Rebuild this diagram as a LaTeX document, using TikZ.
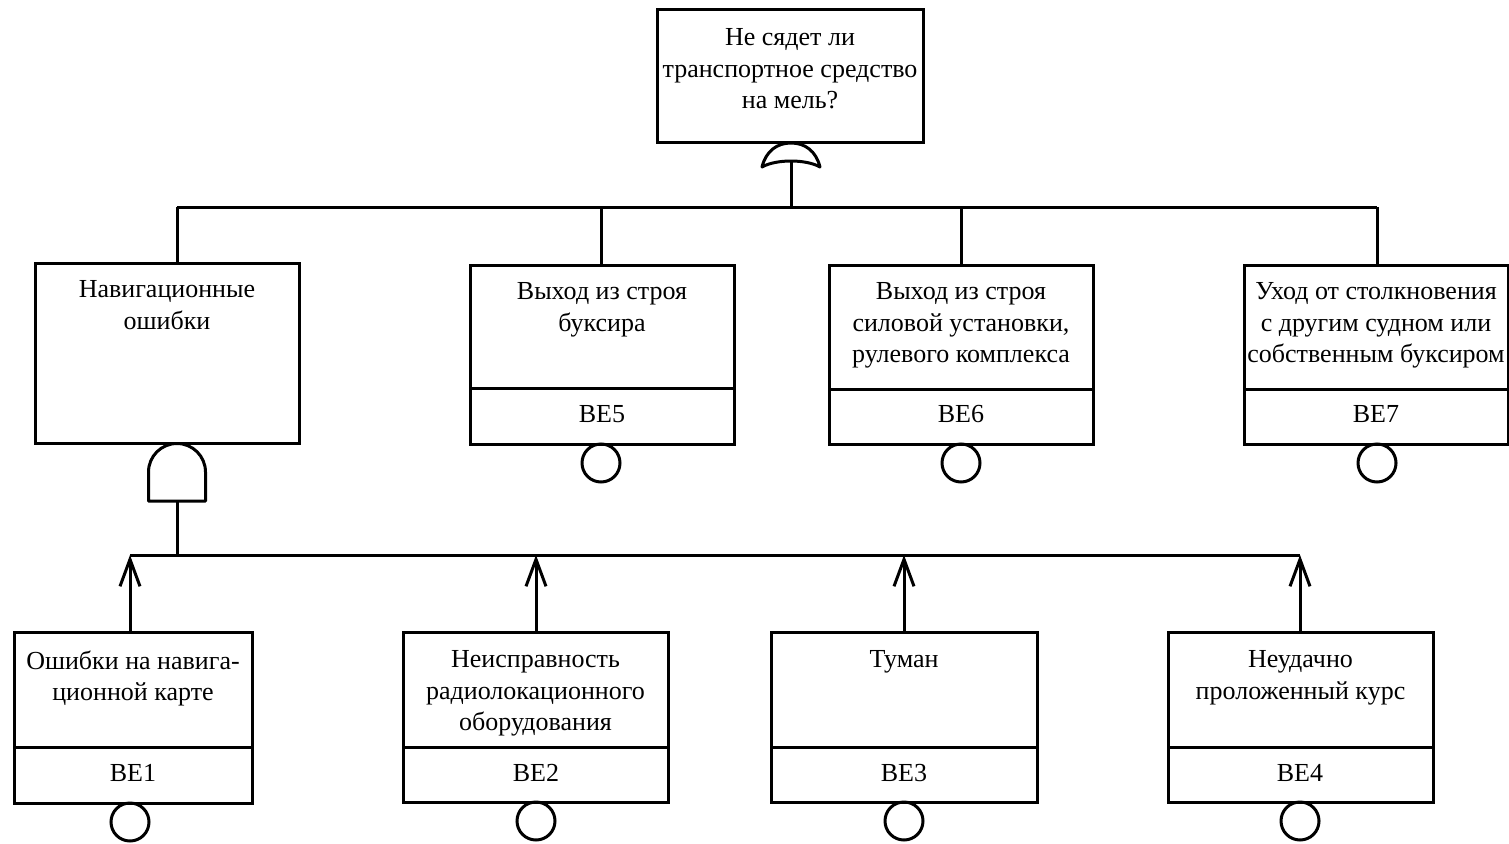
\documentclass[tikz,border=0pt]{standalone}
\usepackage{fontspec}
\setmainfont{Liberation Serif}
\usetikzlibrary{arrows.meta}
\tikzset{
  every picture/.style={line width=3pt},
  box/.style={draw, line width=3pt, inner sep=0pt, outer sep=0pt, anchor=north west},
  txt/.style={inner sep=0pt, align=center, anchor=north, font=\fontsize{26}{31.5}\selectfont},
  lbl/.style={inner sep=0pt, font=\fontsize{26}{31.5}\selectfont},
  evc/.style={draw, circle, line width=3pt, minimum size=38pt, inner sep=0pt, outer sep=0pt, anchor=north},
  conn/.style={line width=3pt},
  arr/.style={line width=3pt, -{Straight Barb[length=27pt,width=20pt,line width=3pt]}},
  gate/.style={draw, line width=3pt, line join=round}
}
\begin{document}
\begin{tikzpicture}[x=1pt,y=-1pt]
\useasboundingbox (0,0) rectangle (1509,843);
\clip (0,0) rectangle (1509,843);

% top event
\node[box, minimum width=266pt, minimum height=132pt] (top) at (657,10) {};
\node[txt] (toptxt) at (790,27) {Не сядет ли\\транспортное средство\\на мель?};

% OR gate
\draw[gate] (762,167) .. controls (766,151) and (777,143) .. (791,143)
  .. controls (805,143) and (816,151) .. (820,167)
  .. controls (806,159) and (776,159) .. (762,167) -- cycle;
\coordinate (orout) at (791,161);
\coordinate (busT) at (791,207);
\coordinate (bTl) at (177,207);
\coordinate (bT5) at (601,207);
\coordinate (bT6) at (961,207);
\coordinate (bTr) at (1377,207);
\draw[conn] (orout) -- (busT);
\draw[conn] (bTl) -- (bTr);

% navigation errors
\node[box, minimum width=264pt, minimum height=180pt] (nav) at (35,263) {};
\node[txt] (navtxt) at (167,279) {Навигационные\\ошибки};
\draw[conn] (bTl) -- (bTl |- nav.north);

% AND gate
\draw[gate] (148.5,501) -- (148.5,472) arc[start angle=180, end angle=360, radius=28.5] -- (205.5,501) -- cycle;
\coordinate (andout) at (177,501);
\coordinate (busB) at (177,555);
\draw[conn] (andout) -- (busB);

% BE5
\node[box, minimum width=264pt, minimum height=179pt] (be5) at (470,265) {};
\coordinate (d5) at (470,388);
\draw[conn] (d5) -- (d5 -| be5.east);
\node[txt] (t5) at (602,281) {Выход из строя\\буксира};
\node[lbl] (l5) at (602,414) {BE5};
\node[evc] (c5) at (601,444) {};
\draw[conn] (bT5) -- (bT5 |- be5.north);

% BE6
\node[box, minimum width=264pt, minimum height=179pt] (be6) at (829,265) {};
\coordinate (d6) at (829,389);
\draw[conn] (d6) -- (d6 -| be6.east);
\node[txt] (t6) at (961,281) {Выход из строя\\силовой установки,\\рулевого комплекса};
\node[lbl] (l6) at (961,414) {BE6};
\node[evc] (c6) at (961,444) {};
\draw[conn] (bT6) -- (bT6 |- be6.north);

% BE7
\node[box, minimum width=264pt, minimum height=179pt] (be7) at (1244,265) {};
\coordinate (d7) at (1244,389);
\draw[conn] (d7) -- (d7 -| be7.east);
\node[txt] (t7) at (1376,281) {Уход от столкновения\\с другим судном или\\собственным буксиром};
\node[lbl] (l7) at (1376,414) {BE7};
\node[evc] (c7) at (1377,444) {};
\draw[conn] (bTr) -- (bTr |- be7.north);

% bottom bus
\coordinate (bB1) at (130,555);
\coordinate (bB2) at (536,555);
\coordinate (bB3) at (904,555);
\coordinate (bB4) at (1300,555);
\draw[conn] (bB1) -- (bB4);

% BE1
\node[box, minimum width=238pt, minimum height=171pt] (be1) at (14,632) {};
\coordinate (d1) at (14,747);
\draw[conn] (d1) -- (d1 -| be1.east);
\node[txt] (t1) at (133,649) {Ошибки на навига-\\ционной карте};
\node[lbl] (l1) at (133,773) {BE1};
\node[evc] (c1) at (130,803) {};
\draw[arr] (bB1 |- be1.north) -- (bB1);

% BE2
\node[box, minimum width=265pt, minimum height=170pt] (be2) at (403,632) {};
\coordinate (d2) at (403,747);
\draw[conn] (d2) -- (d2 -| be2.east);
\node[txt] (t2) at (535.5,649) {Неисправность\\радиолокационного\\оборудования};
\node[lbl] (l2) at (536,773) {BE2};
\node[evc] (c2) at (536,802) {};
\draw[arr] (bB2 |- be2.north) -- (bB2);

% BE3
\node[box, minimum width=266pt, minimum height=170pt] (be3) at (771,632) {};
\coordinate (d3) at (771,747);
\draw[conn] (d3) -- (d3 -| be3.east);
\node[txt] (t3) at (904,649) {Туман};
\node[lbl] (l3) at (904,773) {BE3};
\node[evc] (c3) at (904,802) {};
\draw[arr] (bB3 |- be3.north) -- (bB3);

% BE4
\node[box, minimum width=265pt, minimum height=170pt] (be4) at (1168,632) {};
\coordinate (d4) at (1168,747);
\draw[conn] (d4) -- (d4 -| be4.east);
\node[txt] (t4) at (1300.5,649) {Неудачно\\проложенный курс};
\node[lbl] (l4) at (1300,773) {BE4};
\node[evc] (c4) at (1300,802) {};
\draw[arr] (bB4 |- be4.north) -- (bB4);
\end{tikzpicture}
\end{document}
